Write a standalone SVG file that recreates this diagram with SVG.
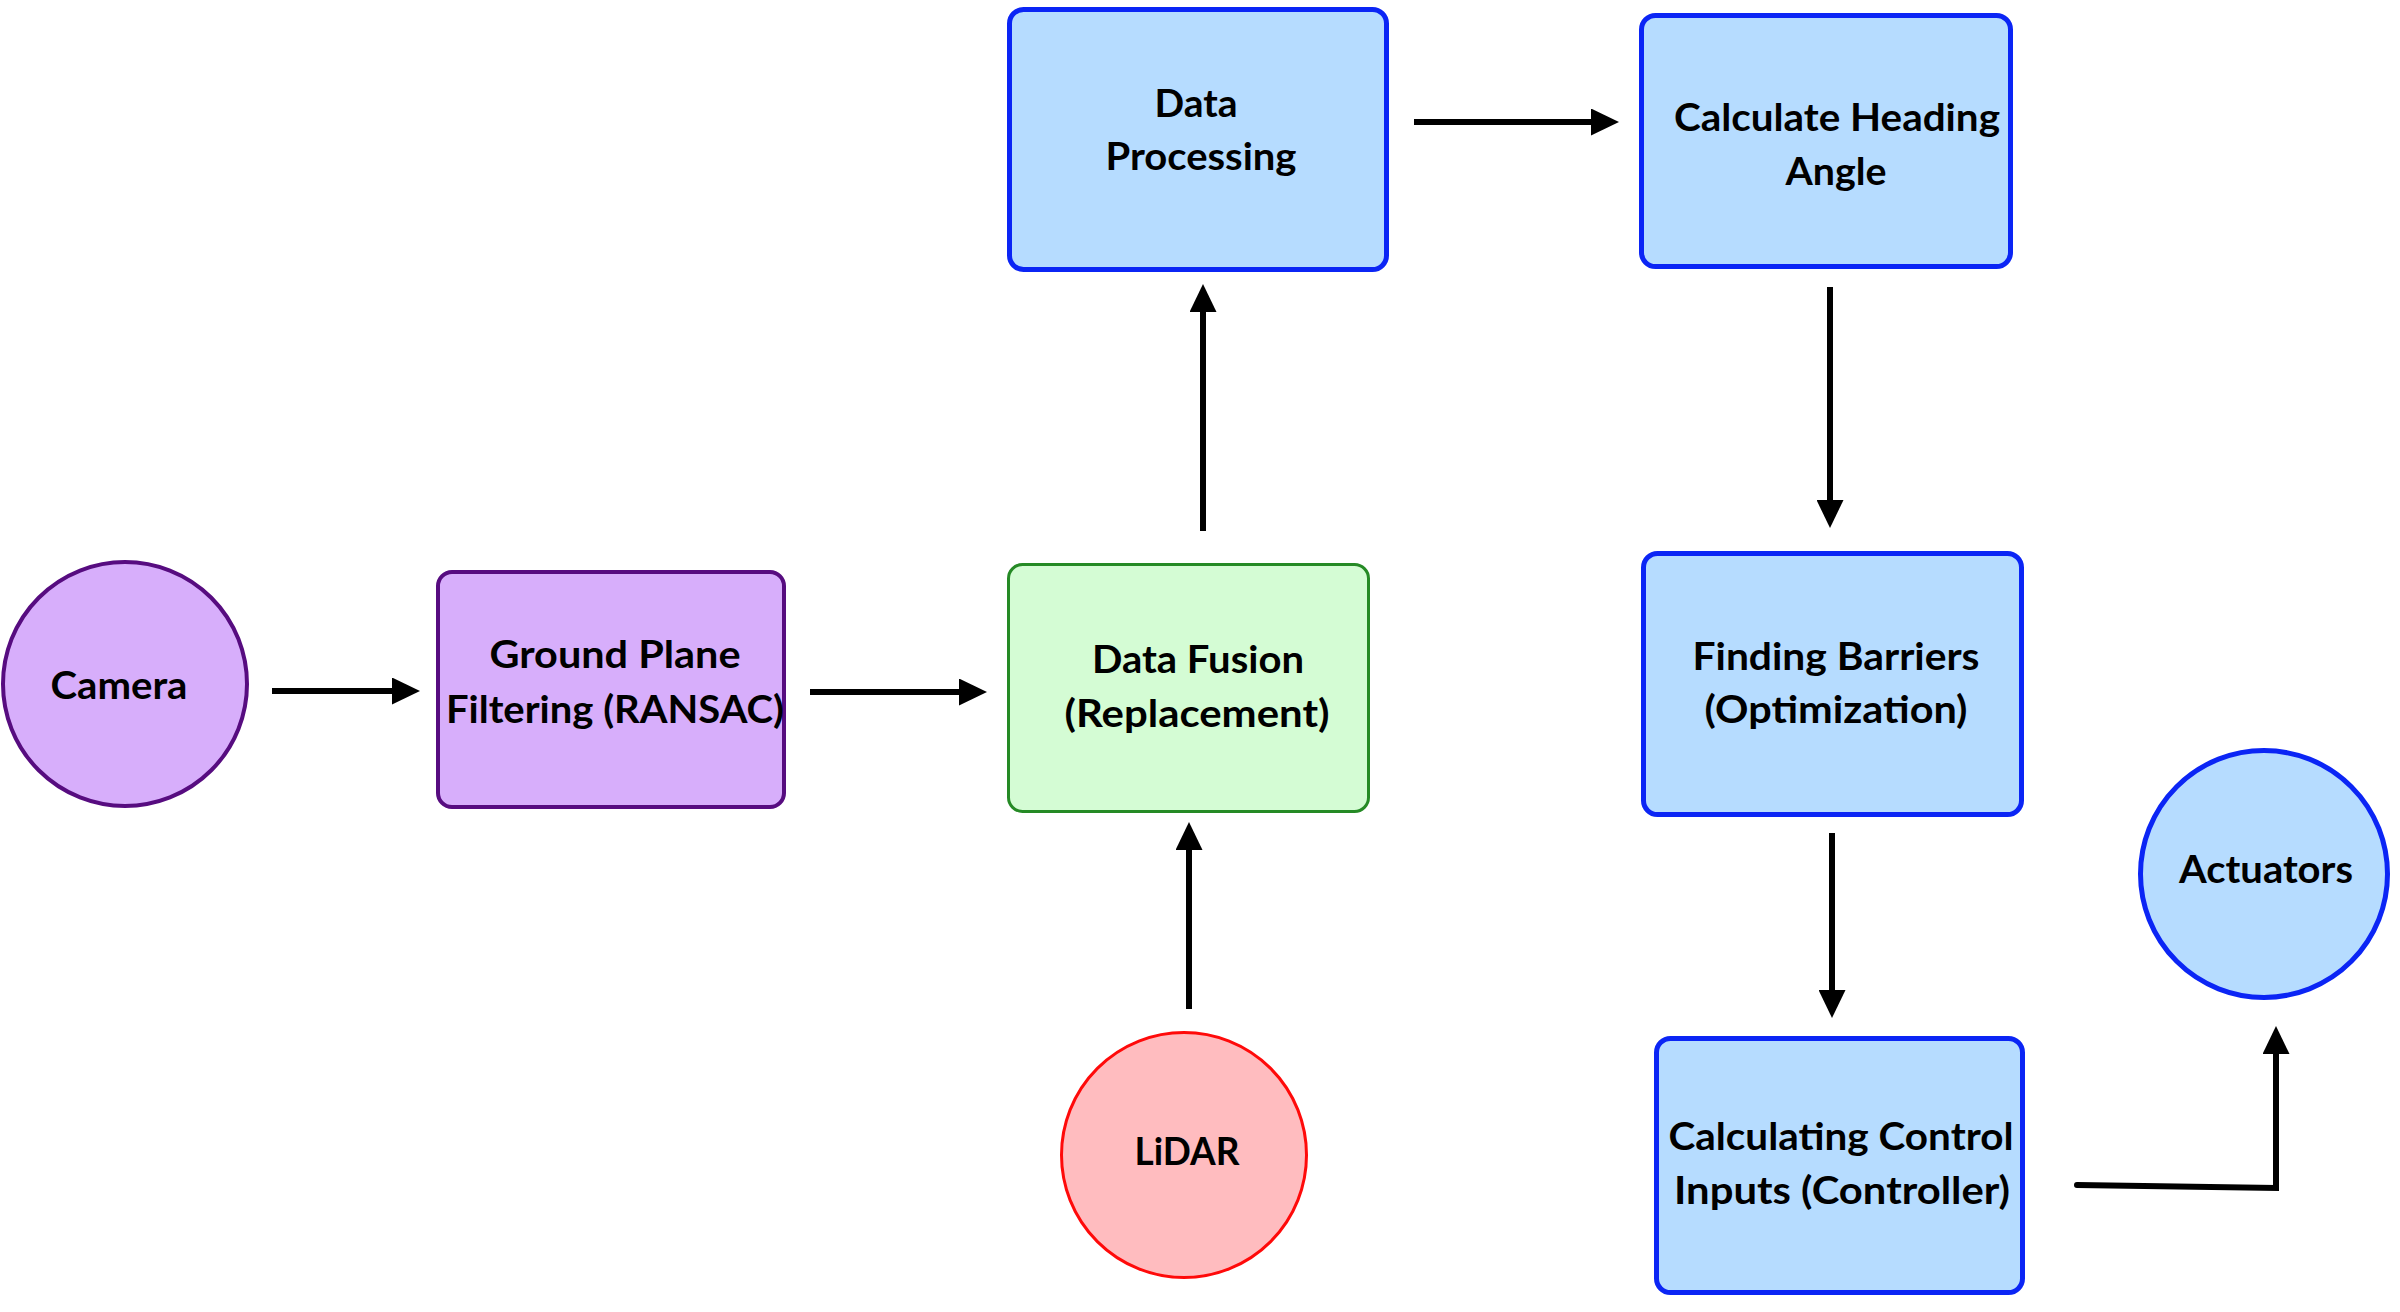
<svg xmlns="http://www.w3.org/2000/svg" width="2400" height="1312" viewBox="0 0 2400 1312">
<style>
.t{font-family:Lato,"Open Sans","Liberation Sans",sans-serif;font-weight:bold;font-size:38px;fill:#000;text-anchor:middle}
.blue{fill:#b6dcff;stroke:#0b25f5;stroke-width:5}
.purple{fill:#d7aefb;stroke:#570c80;stroke-width:4}
.green{fill:#d4fcd4;stroke:#258a25;stroke-width:3}
.red{fill:#ffbcbf;stroke:#ff0a0a;stroke-width:3}
.c{fill:none;stroke:#000;stroke-width:6}
</style>
<defs>
<marker id="ah" markerUnits="userSpaceOnUse" markerWidth="28" markerHeight="27" refX="0" refY="13.5" orient="auto">
<path d="M0,0 L28,13.5 L0,27 Z" fill="#000"/>
</marker>
</defs>
<rect width="2400" height="1312" fill="#fff"/>
<g id="connectors">
<line class="c" x1="272" y1="691" x2="392" y2="691" marker-end="url(#ah)"/>
<line class="c" x1="810" y1="692" x2="959" y2="692" marker-end="url(#ah)"/>
<line class="c" x1="1189" y1="1009" x2="1189" y2="850" marker-end="url(#ah)"/>
<line class="c" x1="1203" y1="531" x2="1203" y2="312" marker-end="url(#ah)"/>
<line class="c" x1="1414" y1="122" x2="1591" y2="122" marker-end="url(#ah)"/>
<line class="c" x1="1830" y1="287" x2="1830" y2="500" marker-end="url(#ah)"/>
<line class="c" x1="1832" y1="833" x2="1832" y2="990" marker-end="url(#ah)"/>
<path class="c" d="M2077,1185 L2276,1188 L2276,1054" stroke-linecap="round" stroke-linejoin="miter" marker-end="url(#ah)"/>
</g>
<g id="camera">
<circle class="purple" cx="125" cy="684" r="122"/>
<text class="t" x="119" y="699" textLength="137" lengthAdjust="spacingAndGlyphs">Camera</text>
</g>
<g id="ground-plane">
<rect class="purple" x="438" y="572" width="346" height="235" rx="14"/>
<text class="t" x="615" y="668" textLength="251" lengthAdjust="spacingAndGlyphs">Ground Plane</text>
<text class="t" x="615" y="723" textLength="338" lengthAdjust="spacingAndGlyphs">Filtering (RANSAC)</text>
</g>
<g id="data-fusion">
<rect class="green" x="1008.5" y="564.5" width="360" height="247" rx="14"/>
<text class="t" x="1198" y="673" textLength="212" lengthAdjust="spacingAndGlyphs">Data Fusion</text>
<text class="t" x="1197" y="727" textLength="265" lengthAdjust="spacingAndGlyphs">(Replacement)</text>
</g>
<g id="lidar">
<circle class="red" cx="1184" cy="1155" r="122.5"/>
<text class="t" x="1187" y="1165" textLength="105" lengthAdjust="spacingAndGlyphs">LiDAR</text>
</g>
<g id="data-processing">
<rect class="blue" x="1009.5" y="9.5" width="377" height="260" rx="14"/>
<text class="t" x="1196" y="117" textLength="83" lengthAdjust="spacingAndGlyphs">Data</text>
<text class="t" x="1201" y="170" textLength="191" lengthAdjust="spacingAndGlyphs">Processing</text>
</g>
<g id="heading-angle">
<rect class="blue" x="1641.5" y="15.5" width="369" height="251" rx="14"/>
<text class="t" x="1837" y="131" textLength="326" lengthAdjust="spacingAndGlyphs">Calculate Heading</text>
<text class="t" x="1836" y="185" textLength="101" lengthAdjust="spacingAndGlyphs">Angle</text>
</g>
<g id="finding-barriers">
<rect class="blue" x="1643.5" y="553.5" width="378" height="261" rx="14"/>
<text class="t" x="1836" y="670" textLength="287" lengthAdjust="spacingAndGlyphs">Finding Barriers</text>
<text class="t" x="1836" y="723" textLength="263" lengthAdjust="spacingAndGlyphs">(Optimization)</text>
</g>
<g id="control-inputs">
<rect class="blue" x="1656.5" y="1038.5" width="366" height="254" rx="14"/>
<text class="t" x="1841" y="1150" textLength="345" lengthAdjust="spacingAndGlyphs">Calculating Control</text>
<text class="t" x="1842" y="1204" textLength="336" lengthAdjust="spacingAndGlyphs">Inputs (Controller)</text>
</g>
<g id="actuators">
<circle class="blue" cx="2264" cy="874" r="123.5"/>
<text class="t" x="2266" y="883" textLength="174" lengthAdjust="spacingAndGlyphs">Actuators</text>
</g>
</svg>
